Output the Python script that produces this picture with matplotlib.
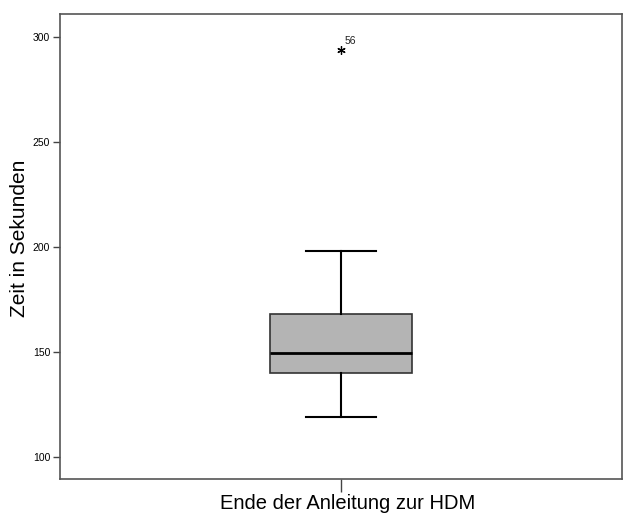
import matplotlib.pyplot as plt

# boxplot summary (seconds)
category = "Ende der Anleitung zur HDM"
whisker_low = 119
q1 = 140
median = 149.5
q3 = 168
whisker_high = 198
outliers = [294]
outlier_ids = ["56"]
yticks = [100, 150, 200, 250, 300]

plt.rcParams['font.family'] = ['Liberation Sans', 'DejaVu Sans']

fig = plt.figure(figsize=(6.24, 5.14), dpi=100)
ax = fig.add_axes([60 / 624, 35 / 514, 562 / 624, 465 / 514])

stats = [dict(med=median, q1=q1, q3=q3, whislo=whisker_low, whishi=whisker_high,
              fliers=outliers, label=category)]
ax.bxp(stats, positions=[1], widths=0.253, capwidths=0.125, patch_artist=True,
       boxprops=dict(facecolor='#b4b4b4', edgecolor='#333333', linewidth=1.2),
       medianprops=dict(color='black', linewidth=2),
       whiskerprops=dict(color='black', linewidth=1.5),
       capprops=dict(color='black', linewidth=1.5),
       flierprops=dict(marker=(6, 2, 0), markersize=6, markeredgewidth=0.9,
                       markerfacecolor='black', markeredgecolor='black',
                       linestyle='none'))

for val, lab in zip(outliers, outlier_ids):
    ax.annotate(lab, (1, val), xytext=(2.5, 4), textcoords='offset points',
                fontsize=7.5, color='#222222')

ax.set_xlim(0.5, 1.5)
ax.set_ylim(89.5, 311)
ax.set_yticks(yticks)
ax.set_yticklabels([str(t) for t in yticks], fontsize=7.5)
ax.set_xticks([1])
ax.set_xticklabels([""])
# category label, sitting a little right of its tick like in the original
ax.annotate(category, xy=(1, 0), xycoords=('data', 'axes fraction'),
            xytext=(5, -11), textcoords='offset points',
            ha='center', va='top', fontsize=14.5)
ax.tick_params(axis='y', length=5, width=1, color='#444444', pad=2)
ax.tick_params(axis='x', length=9, width=1, color='#444444', pad=2)
fig.text(20 / 624, 1 - 238 / 514, "Zeit in Sekunden", rotation=90,
         fontsize=15, ha='center', va='center')
for s in ax.spines.values():
    s.set_color('#555555')
    s.set_linewidth(1.2)

fig.savefig("out.png", dpi=100)
